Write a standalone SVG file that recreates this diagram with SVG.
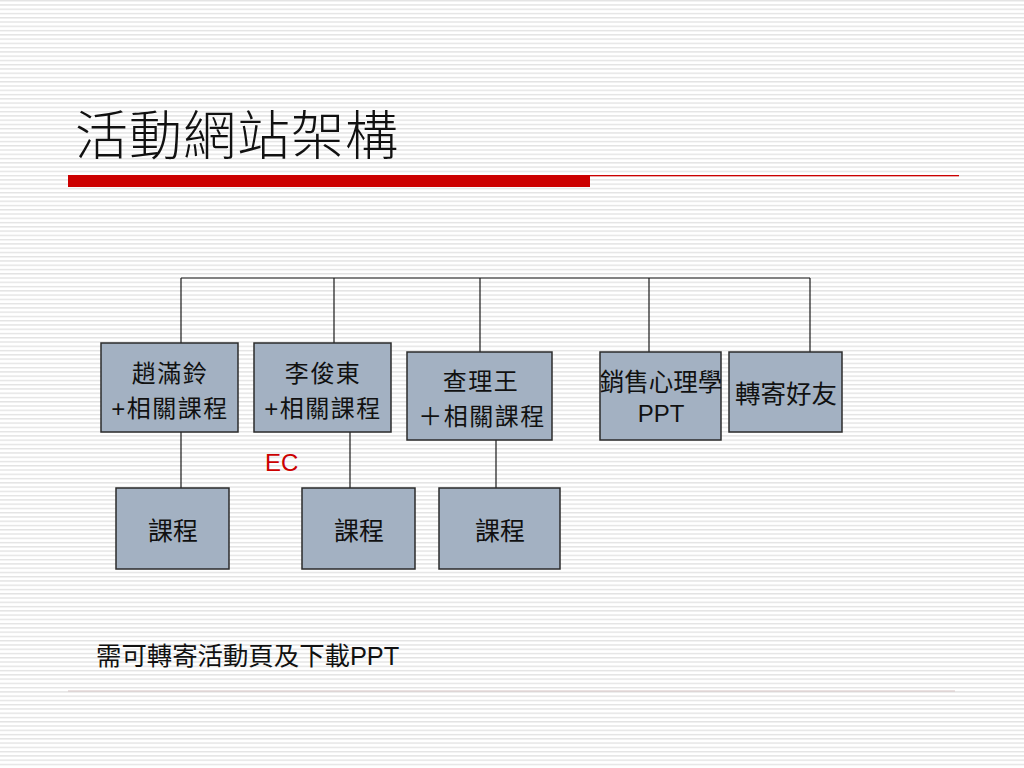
<svg xmlns="http://www.w3.org/2000/svg" width="1024" height="768" viewBox="0 0 1024 768">
<defs>
<pattern id="stripes" x="0" y="0" width="8" height="4.2667" patternUnits="userSpaceOnUse">
<rect x="0" y="0" width="8" height="1.4" fill="#e3e3e3"/>
</pattern>
</defs>
<style>
.box{fill:#a3b1c2;stroke:#2b2b2b;stroke-width:1.5}
.ln{stroke:#1a1a1a;stroke-width:1.2;fill:none}
.cjk{font-family:"Noto Sans CJK TC","Noto Sans CJK SC",sans-serif;fill:#111;text-anchor:middle}
.two{font-size:24px;letter-spacing:1.5px}
.lat{font-family:"Liberation Sans",Arial,sans-serif}
</style>
<rect x="0" y="0" width="1024" height="768" fill="#ffffff"/>
<rect x="0" y="0" width="1024" height="768" fill="url(#stripes)"/>
<text x="75" y="155" font-family="Noto Sans CJK TC, Noto Sans CJK SC, sans-serif" font-size="53" font-weight="300" fill="#111" textLength="323">活動網站架構</text>
<rect x="68" y="175" width="522" height="12" fill="#cc0000"/>
<rect x="590" y="175" width="369" height="1.3" fill="#cc0000"/>
<line x1="68" y1="691" x2="955" y2="691" stroke="#d6c4c4" stroke-width="1.2"/>

<g id="connectors">
<path class="ln" d="M181 278H810M181 278V343M334 278V343M480 278V352M649 278V352M810 278V352"/>
<path class="ln" d="M181 432V488M350 424V488M496 433V488"/>
</g>

<g id="n1">
<rect class="box" x="101" y="343" width="137" height="89"/>
<text class="cjk two" x="170" y="382">趙滿鈴</text>
<text class="cjk two" x="170" y="417"><tspan class="lat">+</tspan>相關課程</text>
</g>
<g id="n2">
<rect class="box" x="254" y="343" width="137" height="89"/>
<text class="cjk two" x="323" y="382">李俊東</text>
<text class="cjk two" x="323" y="417"><tspan class="lat">+</tspan>相關課程</text>
</g>
<g id="n3">
<rect class="box" x="407" y="352" width="145" height="88"/>
<text class="cjk two" x="481" y="390">查理王</text>
<text class="cjk two" x="482" y="425">＋相關課程</text>
</g>
<g id="n4">
<rect class="box" x="600" y="352" width="121" height="88"/>
<text class="cjk" x="661" y="391" font-size="24.5">銷售心理學</text>
<text class="lat" x="661" y="422" font-size="24" fill="#111" text-anchor="middle">PPT</text>
</g>
<g id="n5">
<rect class="box" x="729" y="352" width="113" height="80"/>
<text class="cjk" x="786" y="403" font-size="25.5">轉寄好友</text>
</g>
<g id="ec">
<text class="lat" x="265" y="471" font-size="24" fill="#cc0000">EC</text>
</g>
<g id="c1">
<rect class="box" x="116" y="488" width="113" height="81"/>
<text class="cjk" x="173" y="540" font-size="25">課程</text>
</g>
<g id="c2">
<rect class="box" x="302" y="488" width="113" height="81"/>
<text class="cjk" x="359" y="540" font-size="25">課程</text>
</g>
<g id="c3">
<rect class="box" x="439" y="488" width="121" height="81"/>
<text class="cjk" x="500" y="540" font-size="25">課程</text>
</g>
<g id="note">
<text x="96" y="665" font-family="Noto Sans CJK TC, Noto Sans CJK SC, sans-serif" font-size="25.4" fill="#111">需可轉寄活動頁及下載<tspan font-family="Liberation Sans, Arial, sans-serif">PPT</tspan></text>
</g>
</svg>
